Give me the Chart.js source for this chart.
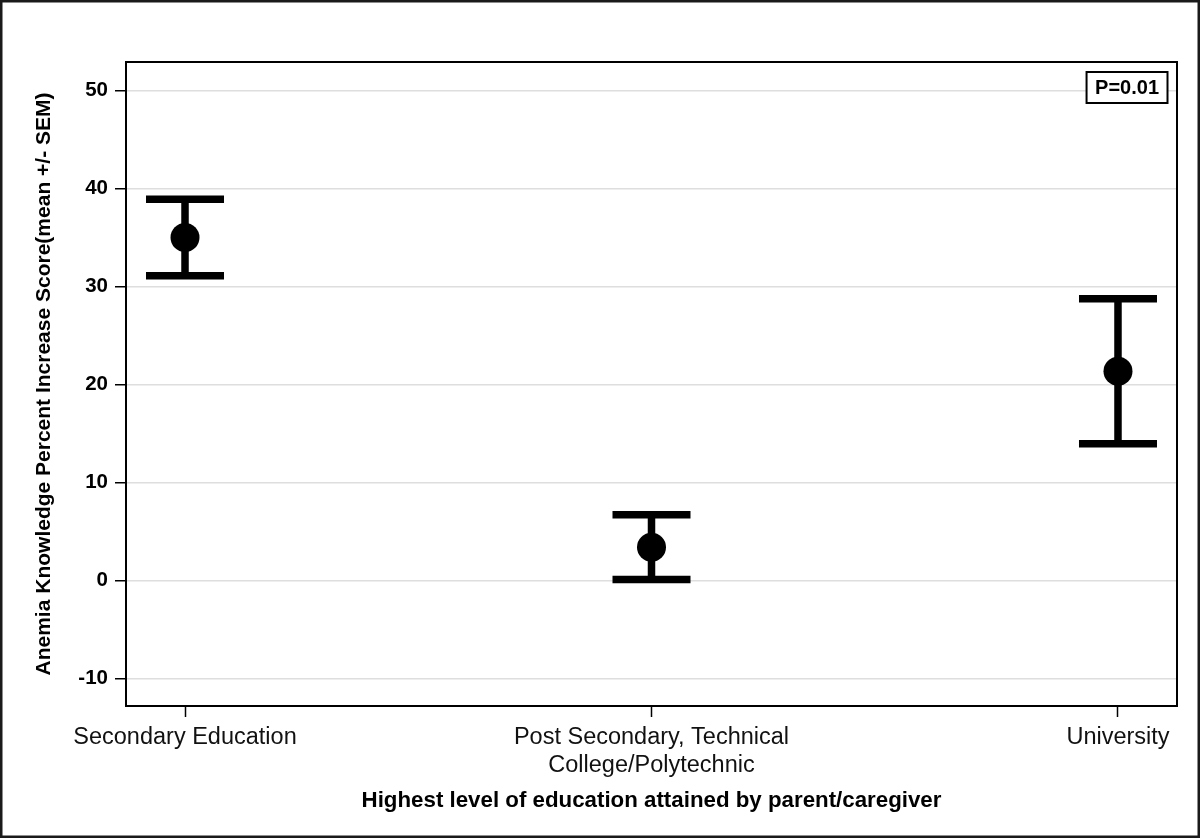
<!DOCTYPE html>
<html>
<head>
<meta charset="utf-8">
<script src="https://cdn.jsdelivr.net/npm/chart.js@4.4.1/dist/chart.umd.min.js"></script>
<style>
  html, body { margin: 0; padding: 0; background: #fff; }
  #wrap { width: 1200px; height: 838px; position: relative; }
  canvas { display: block; }
</style>
</head>
<body>
<div id="wrap"><canvas id="c" width="1200" height="838"></canvas></div>
<script>
// Education groups (x axis) and the mean score with its SEM for each group
const categories = [
  'Secondary Education',
  ['Post Secondary, Technical', 'College/Polytechnic'],
  'University'
];
const means = [35.0, 3.4, 21.35];
const sem = [3.9, 3.3, 7.4];

const xTickValues = [0, 1, 2];
const yTickValues = [-10, 0, 10, 20, 30, 40, 50];

const yTitle = 'Anemia Knowledge Percent Increase Score(mean +/- SEM)';
const xTitle = 'Highest level of education attained by parent/caregiver';
const pValueLabel = 'P=0.01';

const FONT = "'Liberation Sans', Arial, Helvetica, sans-serif";

// Error bars: vertical stem plus horizontal caps at mean ± SEM
const errorBars = {
  id: 'errorBars',
  beforeDatasetsDraw(chart) {
    const { ctx, scales: { x, y } } = chart;
    const capHalf = 39;
    ctx.save();
    ctx.strokeStyle = '#000';
    ctx.lineWidth = 7.5;
    ctx.lineCap = 'butt';
    means.forEach((m, i) => {
      const px = x.getPixelForValue(i);
      const top = y.getPixelForValue(m + sem[i]);
      const bot = y.getPixelForValue(m - sem[i]);
      ctx.beginPath();
      ctx.moveTo(px, top);
      ctx.lineTo(px, bot);
      ctx.moveTo(px - capHalf, top);
      ctx.lineTo(px + capHalf, top);
      ctx.moveTo(px - capHalf, bot);
      ctx.lineTo(px + capHalf, bot);
      ctx.stroke();
    });
    ctx.restore();
  }
};

// Plot frame, P-value box and the outer border of the figure
const frame = {
  id: 'frame',
  afterDraw(chart) {
    const { ctx, chartArea: a } = chart;
    ctx.save();
    ctx.strokeStyle = '#000';
    ctx.lineWidth = 2;
    ctx.strokeRect(a.left, a.top, a.right - a.left, a.bottom - a.top);

    ctx.font = 'bold 20px ' + FONT;
    const tw = ctx.measureText(pValueLabel).width;
    const bw = tw + 17, bh = 31;
    const bx = a.right - 9.5 - bw, by = a.top + 10;
    ctx.fillStyle = '#fff';
    ctx.fillRect(bx, by, bw, bh);
    ctx.strokeRect(bx, by, bw, bh);
    ctx.fillStyle = '#000';
    ctx.textAlign = 'center';
    ctx.textBaseline = 'middle';
    ctx.fillText(pValueLabel, bx + bw / 2, by + bh / 2 + 1);

    ctx.strokeStyle = '#1a1a1a';
    ctx.lineWidth = 2.5;
    ctx.strokeRect(1.25, 1.25, chart.width - 2.5, chart.height - 2.5);
    ctx.restore();
  }
};

new Chart(document.getElementById('c'), {
  type: 'scatter',
  data: {
    datasets: [{
      data: means.map((m, i) => ({ x: i, y: m })),
      pointRadius: 14.5,
      pointHoverRadius: 14.5,
      pointBackgroundColor: '#000',
      pointBorderWidth: 0,
      showLine: false
    }]
  },
  options: {
    responsive: false,
    animation: false,
    devicePixelRatio: 1,
    layout: { autoPadding: false, padding: { top: 62, right: 23, left: 0, bottom: 0 } },
    plugins: { legend: { display: false }, tooltip: { enabled: false } },
    scales: {
      x: {
        type: 'linear',
        min: -0.1265,
        max: 2.1265,
        afterBuildTicks(scale) { scale.ticks = xTickValues.map(v => ({ value: v })); },
        afterFit(scale) { scale.height = 132; },
        grid: { drawOnChartArea: false, drawTicks: true, tickLength: 11, tickColor: '#000', tickWidth: 1.5 },
        border: { display: false },
        ticks: {
          autoSkip: false,
          maxRotation: 0,
          padding: 7.5,
          color: '#111',
          font: { family: FONT, size: 23.5, lineHeight: 1.15 },
          callback: (v) => categories[v]
        },
        title: {
          display: true,
          text: xTitle,
          color: '#000',
          font: { family: FONT, size: 22.3, weight: 'bold', lineHeight: 1 },
          padding: { top: 0, bottom: 25.5 }
        }
      },
      y: {
        type: 'linear',
        min: -12.8,
        max: 52.9,
        afterBuildTicks(scale) { scale.ticks = yTickValues.map(v => ({ value: v })); },
        afterFit(scale) { scale.width = 126; },
        grid: { color: '#dedede', lineWidth: 1.5, drawTicks: true, tickLength: 11, tickColor: '#000', tickWidth: 1.5 },
        border: { display: false },
        ticks: {
          padding: 7,
          color: '#000',
          font: { family: FONT, size: 20.5, weight: 'bold' }
        },
        title: {
          display: true,
          text: yTitle,
          color: '#000',
          font: { family: FONT, size: 21, weight: 'bold', lineHeight: 1 },
          padding: { top: 33.5, bottom: 0 }
        }
      }
    }
  },
  plugins: [errorBars, frame]
});
</script>
</body>
</html>
